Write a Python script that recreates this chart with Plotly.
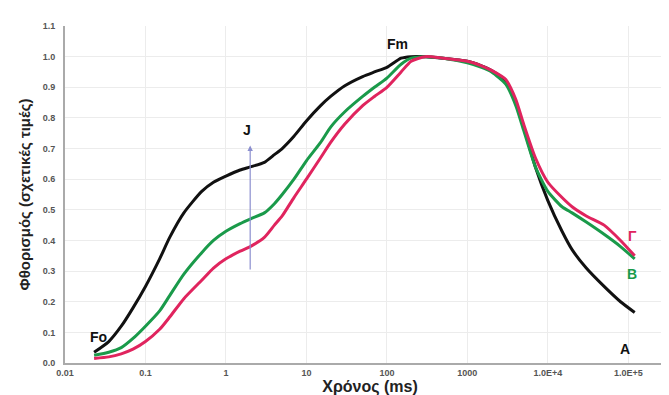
import math
import plotly.graph_objects as go

x_ms = [0.023, 0.035, 0.05, 0.07, 0.1, 0.15, 0.2, 0.3, 0.5, 0.7, 1, 1.5, 2, 3, 4, 5, 7, 10, 15, 20, 30, 50, 70, 100,
        150, 200, 300, 500, 1000, 1500, 2000, 3000, 4000, 5000, 7000, 10000, 15000, 20000, 30000, 50000, 80000, 120000]
curve_A = [0.035, 0.07, 0.12, 0.18, 0.25, 0.34, 0.41, 0.49, 0.56, 0.59, 0.61, 0.63, 0.64, 0.655, 0.68, 0.70, 0.74, 0.79, 0.84, 0.87, 0.905, 0.935, 0.95, 0.965,
           0.995, 1.0, 1.0, 0.995, 0.985, 0.97, 0.955, 0.92, 0.85, 0.77, 0.64, 0.53, 0.43, 0.37, 0.31, 0.25, 0.20, 0.165]
curve_B = [0.025, 0.035, 0.05, 0.08, 0.12, 0.17, 0.22, 0.29, 0.36, 0.40, 0.43, 0.455, 0.47, 0.49, 0.52, 0.55, 0.60, 0.66, 0.72, 0.77, 0.82, 0.87, 0.90, 0.93,
           0.975, 0.995, 1.0, 0.995, 0.98, 0.965, 0.95, 0.91, 0.84, 0.76, 0.64, 0.56, 0.51, 0.49, 0.46, 0.42, 0.38, 0.34]
curve_G = [0.015, 0.02, 0.03, 0.045, 0.07, 0.11, 0.15, 0.21, 0.27, 0.31, 0.34, 0.365, 0.38, 0.41, 0.45, 0.48, 0.54, 0.60, 0.67, 0.72, 0.78, 0.84, 0.87, 0.90,
           0.95, 0.985, 1.0, 0.995, 0.985, 0.97, 0.955, 0.925, 0.86, 0.78, 0.67, 0.59, 0.54, 0.51, 0.48, 0.45, 0.40, 0.35]

x_tickvals = [0.01, 0.1, 1, 10, 100, 1000, 10000, 100000]
x_ticktext = ["0.01", "0.1", "1", "10", "100", "1000", "1.0E+4", "1.0E+5"]
y_tickvals = [0.0, 0.1, 0.2, 0.3, 0.4, 0.5, 0.6, 0.7, 0.8, 0.9, 1.0, 1.1]

fig = go.Figure()
for ys, col in [(curve_A, "#111111"), (curve_B, "#1a9a4a"), (curve_G, "#e0245e")]:
    fig.add_trace(go.Scatter(x=x_ms, y=ys, mode="lines",
                             line=dict(color=col, width=3, shape="spline", smoothing=0.6),
                             showlegend=False, hoverinfo="skip"))

# J arrow
fig.add_annotation(x=math.log10(2), y=0.71, ax=math.log10(2), ay=0.30, xref="x", yref="y", axref="x", ayref="y",
                   showarrow=True, arrowhead=2, arrowsize=0.9, arrowwidth=1.2, arrowcolor="#8b8fcf", text="")

labels = [
    ("Fo", 0.026, 0.085, "#111111"),
    ("J", 1.85, 0.76, "#111111"),
    ("Fm", 135, 1.04, "#111111"),
    ("A", 92000, 0.045, "#111111"),
    ("B", 112000, 0.29, "#1a9a4a"),
    ("Γ", 112000, 0.415, "#e0245e"),
]
for t, xv, yv, c in labels:
    fig.add_annotation(x=math.log10(xv), y=yv, text=f"<b>{t}</b>", showarrow=False,
                       font=dict(size=14, color=c, family="Liberation Sans"))

fig.update_layout(
    width=669, height=395,
    margin=dict(l=57, r=2, t=18, b=40),
    paper_bgcolor="white", plot_bgcolor="white",
    font=dict(family="Liberation Sans"),
)
fig.update_xaxes(type="log", range=[-2, 5.58], tickvals=x_tickvals, ticktext=x_ticktext,
                 showgrid=True, gridcolor="#ececec", gridwidth=1,
                 showline=True, linecolor="#aaaaaa", linewidth=2, zeroline=False,
                 tickfont=dict(size=9, color="#555555", weight="bold"),
                 title=dict(text="<b>Χρόνος (ms)</b>", font=dict(size=16, color="#222222"), standoff=4))
fig.update_yaxes(range=[0, 1.1], tickvals=y_tickvals, tickformat=".1f",
                 showgrid=True, gridcolor="#ececec", gridwidth=1,
                 showline=True, linecolor="#aaaaaa", linewidth=2, zeroline=False,
                 tickfont=dict(size=9, color="#555555", weight="bold"), ticklabelstandoff=6,
                 title=dict(text="<b>Φθορισμός (σχετικές τιμές)</b>", font=dict(size=15, color="#222222"), standoff=8))

fig.write_html("out.html")
